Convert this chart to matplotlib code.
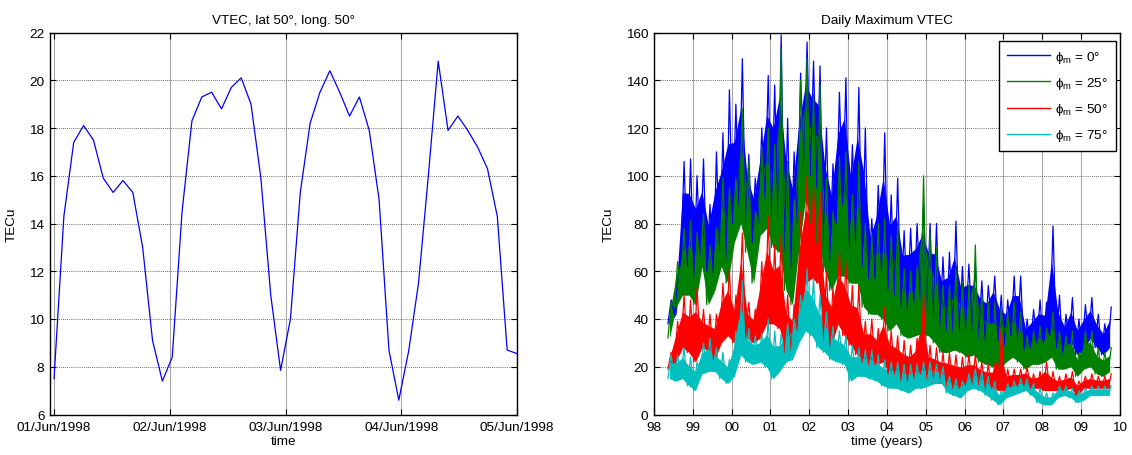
"""VTEC: one station over four days (left) and daily maxima 1998-2009 for four
magnetic latitudes (right). MATLAB-like styling."""
import numpy as np
import pandas as pd
import matplotlib
matplotlib.use("Agg")
import matplotlib.pyplot as plt
import matplotlib.dates as mdates

plt.rcParams["font.family"] = ["Liberation Sans", "DejaVu Sans"]
plt.rcParams["mathtext.fontset"] = "custom"
plt.rcParams["mathtext.rm"] = "Liberation Sans"
plt.rcParams["mathtext.it"] = "Liberation Sans"
FS = 9.7

# ---------------- left panel data: VTEC at lat 50, long 50 --------------------
vtec_start = "1998-06-01 00:00"
vtec_end = "1998-06-05 00:00"
vtec = [7.5, 14.3, 17.4, 18.1, 17.5, 15.9, 15.3, 15.8, 15.3, 13.0, 9.1, 7.4,
        8.4, 14.5, 18.3, 19.3, 19.5, 18.8, 19.7, 20.1, 19.0, 15.9, 11.0, 7.85,
        10.0, 15.3, 18.2, 19.5, 20.4, 19.5, 18.5, 19.3, 17.9, 15.0, 8.7, 6.6,
        8.65, 11.5, 16.0, 20.8, 17.9, 18.5, 17.9, 17.2, 16.3, 14.3, 8.7, 8.55]

# ---------------- right panel data: daily max VTEC, 2-month bins --------------
# bin centres in years (98 = 1998, 100 = 2000 ...), upper / lower envelope
bin_start = 98.4
bin_width = 1 / 6
labels = ["$\\phi_m$ = 0°", "$\\phi_m$ = 25°", "$\\phi_m$ = 50°", "$\\phi_m$ = 75°"]
colors = ["#0000ff", "#008000", "#ff0000", "#00bfbf"]

hi_0 = [48, 56, 106, 107, 100, 107, 88, 110, 118, 136, 130, 149,
        109, 99, 120, 142, 138, 159, 124, 110, 143, 156, 148, 146,
        120, 105, 135, 141, 113, 137, 120, 82, 96, 118, 92, 99,
        77, 78, 80, 88, 80, 80, 66, 68, 81, 62, 63, 63,
        56, 54, 58, 50, 48, 58, 58, 40, 44, 48, 47, 79,
        50, 42, 49, 40, 46, 49, 42, 38, 45]
lo_0 = [38, 42, 65, 62, 57, 65, 60, 58, 68, 65, 80, 85,
        78, 72, 80, 90, 82, 79, 68, 62, 80, 100, 100, 95,
        70, 64, 80, 88, 70, 72, 62, 57, 57, 60, 52, 50,
        45, 44, 47, 48, 42, 40, 35, 35, 34, 34, 36, 35,
        32, 31, 38, 31, 29, 33, 32, 27, 28, 30, 30, 33,
        28, 26, 30, 25, 27, 32, 28, 25, 28]

hi_25 = [47, 64, 78, 81, 76, 84, 71, 78, 99, 95, 99, 128,
         106, 85, 112, 120, 113, 153, 106, 90, 140, 149, 134, 138,
         99, 85, 108, 110, 92, 106, 80, 75, 80, 82, 75, 79,
         61, 60, 62, 100, 76, 70, 54, 54, 61, 55, 54, 71,
         50, 47, 47, 45, 43, 47, 43, 33, 35, 37, 36, 43,
         35, 33, 35, 26, 35, 35, 28, 26, 28]
lo_25 = [32, 45, 50, 50, 46, 62, 46, 52, 62, 55, 72, 80,
         68, 55, 75, 78, 70, 68, 52, 46, 70, 90, 80, 72,
         60, 52, 58, 58, 55, 55, 45, 42, 42, 40, 35, 38,
         33, 32, 33, 34, 33, 30, 26, 26, 27, 26, 24, 25,
         22, 21, 20, 19, 22, 24, 22, 19, 21, 21, 22, 24,
         19, 19, 20, 16, 19, 20, 17, 16, 18]

hi_50 = [26, 39, 50, 48, 53, 44, 42, 42, 55, 61, 50, 76,
         47, 44, 64, 83, 71, 75, 50, 46, 85, 100, 95, 93,
         60, 53, 68, 64, 54, 54, 39, 40, 36, 45, 35, 33,
         31, 29, 32, 50, 29, 28, 26, 26, 25, 24, 25, 25,
         22, 21, 21, 36, 19, 19, 19, 20, 17, 18, 22, 18,
         16, 17, 18, 14, 16, 17, 16, 16, 17]
lo_50 = [19, 22, 28, 26, 22, 28, 27, 23, 30, 33, 30, 40,
         32, 30, 32, 38, 38, 36, 26, 25, 35, 55, 57, 55,
         30, 28, 38, 33, 29, 25, 22, 21, 21, 22, 17, 17,
         14, 14, 15, 17, 14, 13, 13, 12, 11, 11, 12, 12,
         12, 11, 11, 10, 10, 12, 12, 12, 11, 11, 10, 10,
         10, 10, 11, 8, 11, 11, 11, 11, 11]

hi_75 = [25, 25, 28, 24, 22, 30, 32, 28, 26, 23, 35, 56,
         36, 33, 34, 40, 35, 34, 38, 40, 50, 61, 57, 50,
         43, 37, 35, 33, 29, 28, 27, 27, 25, 23, 22, 22,
         21, 21, 21, 22, 22, 21, 20, 16, 15, 14, 17, 19,
         18, 16, 14, 10, 13, 14, 15, 15, 13, 11, 9, 9,
         12, 12, 11, 10, 11, 12, 12, 12, 12]
lo_75 = [15, 14, 15, 12, 10, 17, 18, 18, 15, 13, 16, 25,
         22, 21, 22, 20, 15, 18, 22, 23, 30, 35, 33, 28,
         26, 23, 22, 21, 14, 16, 16, 15, 14, 12, 11, 11,
         10, 9, 11, 11, 12, 13, 13, 9, 8, 7, 10, 11,
         10, 8, 6, 4, 7, 8, 9, 10, 8, 5, 4, 4,
         7, 8, 7, 5, 6, 8, 8, 8, 8]

year_ticks = list(range(98, 111))
year_labels = [f"{y % 100:02d}" for y in year_ticks]

fig = plt.figure(figsize=(11.32, 4.56), dpi=100)
W, H = 1132, 456


def axes_px(x0, x1, y0, y1):
    return fig.add_axes([x0 / W, 1 - y1 / H, (x1 - x0) / W, (y1 - y0) / H])


def matlab_style(ax):
    for s in ax.spines.values():
        s.set_linewidth(1.0)
        s.set_color("black")
    ax.tick_params(direction="in", length=4, width=0.8, top=True, right=True,
                   labelsize=FS, colors="black")
    ax.tick_params(axis="x", pad=5)
    ax.tick_params(axis="y", pad=4)
    ax.set_axisbelow(True)
    ax.xaxis.grid(True, color="#a8a8a8", linestyle="-", linewidth=0.8)
    ax.yaxis.grid(True, color="#404040", linestyle=(0, (1, 1.5)), linewidth=0.6)


# ---------------- left panel ---------------------------------------------------
ax1 = axes_px(50, 517, 33.5, 415.5)
t = pd.date_range(vtec_start, vtec_end, periods=len(vtec))
ax1.plot(t, vtec, color="#0000ff", lw=0.9)
ax1.set_xlim(pd.Timestamp(vtec_start) - pd.Timedelta(minutes=50),
             pd.Timestamp(vtec_end))
ax1.set_ylim(6, 22)
ax1.set_yticks(range(6, 23, 2))
ax1.xaxis.set_major_locator(mdates.DayLocator())
ax1.xaxis.set_major_formatter(mdates.DateFormatter("%d/%b/%Y"))
matlab_style(ax1)
ax1.set_title("VTEC, lat 50°, long. 50°", fontsize=FS, pad=7)
ax1.set_xlabel("time", fontsize=FS, labelpad=1)
ax1.set_ylabel("TECu", fontsize=FS, labelpad=8)

# ---------------- right panel --------------------------------------------------
ax2 = axes_px(654, 1120, 33.5, 415.5)
series = [(hi_0, lo_0), (hi_25, lo_25), (hi_50, lo_50), (hi_75, lo_75)]
for (hi, lo), c, lab in zip(series, colors, labels):
    hi = np.asarray(hi, float)
    lo = np.asarray(lo, float)
    tc = bin_start + bin_width * np.arange(len(hi))
    # solid core of the dense daily trace, spikes drawn by the zig-zag line
    ax2.fill_between(tc, lo, lo + 0.68 * (hi - lo), color=c, lw=0)
    xz = np.column_stack([tc - bin_width / 4, tc + bin_width / 4]).ravel()
    yz = np.column_stack([lo, hi]).ravel()
    ax2.plot(xz, yz, color=c, lw=0.9, label=lab)

ax2.set_xlim(98, 110)
ax2.set_ylim(0, 160)
ax2.set_xticks(year_ticks)
ax2.set_xticklabels(year_labels)
ax2.set_yticks(range(0, 161, 20))
matlab_style(ax2)
ax2.set_title("Daily Maximum VTEC", fontsize=FS, pad=7)
ax2.set_xlabel("time (years)", fontsize=FS, labelpad=1)
ax2.set_ylabel("TECu", fontsize=FS, labelpad=8)

leg = ax2.legend(loc="upper right", bbox_to_anchor=(1116 / W, 1 - 42 / H),
                 bbox_transform=fig.transFigure, fontsize=FS, frameon=True,
                 fancybox=False, handlelength=3.2, handletextpad=0.4,
                 labelspacing=0.75, borderpad=0.6, borderaxespad=0)
leg.get_frame().set_edgecolor("black")
leg.get_frame().set_linewidth(1.0)
leg.get_frame().set_alpha(1)
for ln in leg.get_lines():
    ln.set_linewidth(1.0)

fig.savefig("out.png", dpi=100, facecolor="white")
